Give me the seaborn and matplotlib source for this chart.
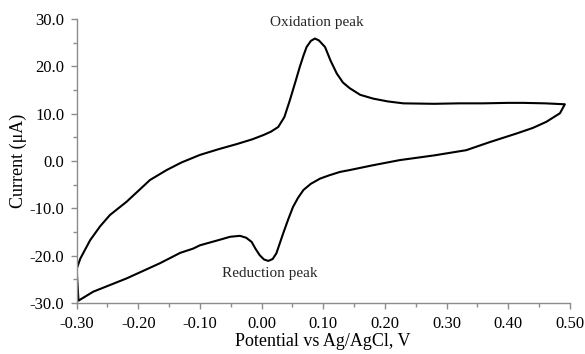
import numpy as np
import pandas as pd
import matplotlib
matplotlib.use("Agg")
import matplotlib.pyplot as plt
import seaborn as sns
from matplotlib.ticker import MultipleLocator, FormatStrFormatter

# Forward scan (upper branch), -0.30 V -> 0.49 V
fwd_x = [-0.300, -0.294, -0.278, -0.262, -0.246, -0.219, -0.200, -0.181, -0.154,
         -0.130, -0.100, -0.070, -0.040, -0.015, 0.003, 0.015, 0.027, 0.037,
         0.046, 0.055, 0.062, 0.068, 0.073, 0.080, 0.0865, 0.093, 0.103, 0.112,
         0.122, 0.132, 0.143, 0.160, 0.181, 0.205, 0.230, 0.280, 0.320, 0.359,
         0.400, 0.424, 0.460, 0.492]
fwd_y = [-22.8, -20.6, -16.7, -13.8, -11.4, -8.6, -6.3, -4.0, -1.9,
         -0.3, 1.3, 2.5, 3.6, 4.6, 5.5, 6.2, 7.2, 9.3,
         12.9, 16.8, 19.9, 22.3, 24.1, 25.4, 25.9, 25.5, 24.1, 21.2,
         18.5, 16.6, 15.4, 14.0, 13.2, 12.6, 12.2, 12.1, 12.2, 12.2,
         12.3, 12.3, 12.2, 12.0]

# Reverse scan (lower branch), 0.49 V -> -0.30 V
rev_x = [0.492, 0.484, 0.462, 0.440, 0.413, 0.370, 0.332, 0.280, 0.224,
         0.180, 0.143, 0.127, 0.110, 0.095, 0.080, 0.068, 0.059, 0.051,
         0.043, 0.035, 0.029, 0.024, 0.018, 0.011, 0.004, -0.003, -0.010,
         -0.016, -0.025, -0.035, -0.051, -0.067, -0.100, -0.111, -0.132,
         -0.165, -0.219, -0.273, -0.297, -0.300]
rev_y = [12.0, 10.1, 8.3, 7.0, 5.8, 4.0, 2.3, 1.2, 0.2,
         -0.9, -1.9, -2.3, -3.0, -3.7, -4.8, -6.1, -7.8, -9.7,
         -12.4, -15.3, -17.6, -19.5, -20.7, -21.1, -20.8, -19.9, -18.5,
         -17.1, -16.2, -15.8, -16.0, -16.6, -17.8, -18.5, -19.4,
         -21.6, -24.8, -27.6, -29.5, -22.8]

x_ticks = [-0.30, -0.20, -0.10, 0.00, 0.10, 0.20, 0.30, 0.40, 0.50]
y_ticks = [-30.0, -20.0, -10.0, 0.0, 10.0, 20.0, 30.0]

df = pd.DataFrame({
    "potential": fwd_x + rev_x,
    "current": fwd_y + rev_y,
})

sns.set_theme(style="white")
plt.rcParams["font.family"] = ["Liberation Serif", "DejaVu Serif"]
plt.rcParams["axes.unicode_minus"] = False

fig = plt.figure(figsize=(5.85, 3.54), dpi=100)
ax = fig.add_axes([0.131, 0.144, 0.843, 0.802])

sns.lineplot(data=df, x="potential", y="current", sort=False, estimator=None,
             color="black", linewidth=1.5, ax=ax)

ax.set_xlim(-0.30, 0.50)
ax.set_ylim(-30, 30)
ax.set_xticks(x_ticks)
ax.set_yticks(y_ticks)
ax.xaxis.set_minor_locator(MultipleLocator(0.05))
ax.yaxis.set_minor_locator(MultipleLocator(5))
ax.xaxis.set_major_formatter(FormatStrFormatter("%.2f"))
ax.yaxis.set_major_formatter(FormatStrFormatter("%.1f"))

spine_col = "#8c8c8c"
for s in ["top", "right"]:
    ax.spines[s].set_visible(False)
for s in ["left", "bottom"]:
    ax.spines[s].set_color(spine_col)
    ax.spines[s].set_linewidth(1.0)

ax.tick_params(axis="both", which="both", direction="out", color=spine_col,
               width=1.0, bottom=True, left=True, labelsize=12, labelcolor="black")
ax.tick_params(axis="both", which="major", length=4, pad=5)
ax.tick_params(axis="both", which="minor", length=3)

ax.set_xlabel("Potential vs Ag/AgCl, V", fontsize=13, labelpad=1, color="black")
ax.set_ylabel("Current (\u03bcA)", fontsize=13, labelpad=2, color="black")

ax.text(0.090, 28.0, "Oxidation peak", ha="center", va="bottom", fontsize=11)
ax.text(0.013, -22.3, "Reduction peak", ha="center", va="top", fontsize=11)

fig.savefig("out.png", dpi=100)
